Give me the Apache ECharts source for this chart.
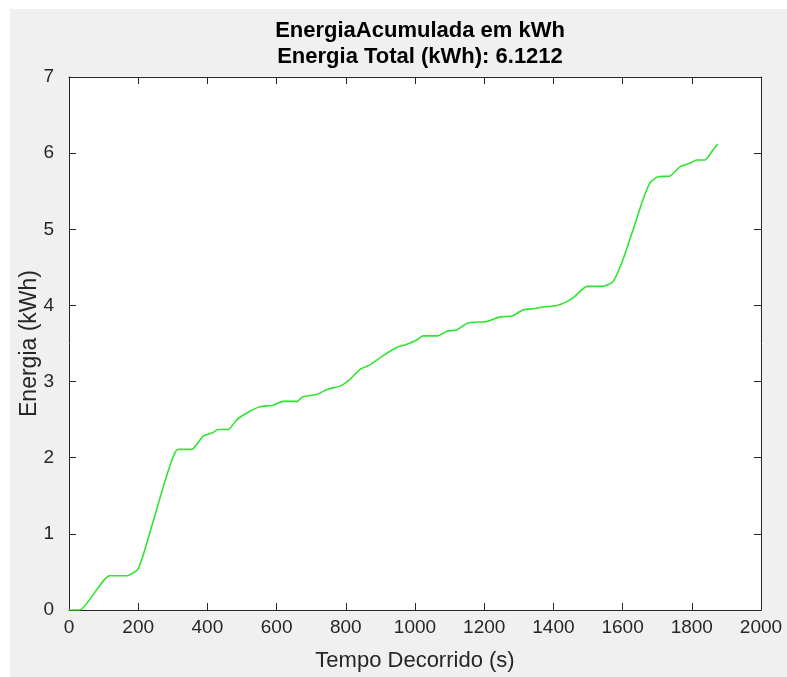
<!DOCTYPE html>
<html>
<head>
<meta charset="utf-8">
<script src="https://cdn.jsdelivr.net/npm/echarts@6/dist/echarts.min.js"></script>
<style>
  html, body { margin: 0; padding: 0; background: #ffffff; }
  #chartEnergy { width: 787px; height: 677px; }
</style>
</head>
<body>
<div id="chartEnergy"></div>
<script>
// data
var timeSec = [0, 30, 118, 167, 200, 234, 268, 298, 315, 355, 387, 416, 430, 460, 485, 523, 552, 590, 618, 659, 676, 716, 748, 783, 812, 841, 870, 908, 948, 977, 1006, 1023, 1064, 1092, 1121, 1153, 1208, 1246, 1280, 1312, 1347, 1370, 1410, 1439, 1462, 1497, 1540, 1572, 1601, 1630, 1659, 1679, 1702, 1737, 1766, 1795, 1815, 1838, 1861, 1875];
var energyKWh = [0, 0, 0.45, 0.45, 0.54, 1.02, 1.55, 1.98, 2.11, 2.11, 2.28, 2.33, 2.37, 2.37, 2.5, 2.61, 2.67, 2.69, 2.74, 2.74, 2.8, 2.83, 2.9, 2.94, 3.03, 3.16, 3.22, 3.34, 3.45, 3.49, 3.55, 3.6, 3.6, 3.66, 3.68, 3.77, 3.79, 3.85, 3.86, 3.94, 3.96, 3.98, 4.0, 4.05, 4.12, 4.25, 4.25, 4.31, 4.6, 4.99, 5.39, 5.61, 5.69, 5.7, 5.82, 5.87, 5.91, 5.91, 6.04, 6.1212];
var xTicks = [0, 200, 400, 600, 800, 1000, 1200, 1400, 1600, 1800, 2000];
var yTicks = [0, 1, 2, 3, 4, 5, 6, 7];

var points = timeSec.map(function (t, i) { return [t, energyKWh[i]]; });

var dom = document.getElementById("chartEnergy");
var myChart = echarts.init(dom, null, { renderer: "canvas" });
var txt = "#262626";
var font = "Liberation Sans, Arial, sans-serif";

// ticks pointing into the plot box, like matlab
function tick() { return { show: true, inside: true, length: 7, lineStyle: { color: txt, width: 1 } }; }
function axLine() { return { show: true, onZero: false, lineStyle: { color: txt, width: 1 } }; }

var option = {
  backgroundColor: "#ffffff",
  animation: false,
  graphic: [{
    type: "rect",
    z: -10,
    shape: { x: 10, y: 9, width: 777, height: 668 },
    style: { fill: "#f0f0f0" }
  }, {
    type: "rect",
    z: -9,
    shape: { x: 69, y: 77, width: 692, height: 534 },
    style: { fill: "#ffffff" }
  }],
  title: {
    text: "EnergiaAcumulada em kWh\nEnergia Total (kWh): 6.1212",
    left: 415,
    top: 13,
    textAlign: "center",
    textStyle: { fontFamily: font, fontSize: 22, fontWeight: "bold", color: "#000000", lineHeight: 26 }
  },
  grid: { left: 69, right: 26, top: 77, bottom: 66, show: false },
  xAxis: [{
    type: "value",
    min: 0, max: 2000, interval: 200,
    name: "Tempo Decorrido (s)",
    nameLocation: "middle",
    nameGap: 40,
    nameMoveOverlap: false,
    nameTextStyle: { fontFamily: font, fontSize: 22, color: txt },
    axisLine: axLine(),
    axisTick: tick(),
    splitLine: { show: false },
    axisLabel: { fontFamily: font, fontSize: 19, color: txt, margin: 8,
      formatter: function (v) { return xTicks.indexOf(v) >= 0 ? String(v) : ""; } }
  }, {
    type: "value",
    position: "top",
    min: 0, max: 2000, interval: 200,
    axisLine: axLine(),
    axisTick: tick(),
    splitLine: { show: false },
    axisLabel: { show: false }
  }],
  yAxis: [{
    type: "value",
    min: 0, max: 7, interval: 1,
    name: "Energia (kWh)",
    nameLocation: "middle",
    nameGap: 28,
    nameMoveOverlap: false,
    nameRotate: 90,
    nameTextStyle: { fontFamily: font, fontSize: 23, color: txt },
    axisLine: axLine(),
    axisTick: tick(),
    splitLine: { show: false },
    axisLabel: { fontFamily: font, fontSize: 19, color: txt, margin: 15,
      formatter: function (v) { return yTicks.indexOf(v) >= 0 ? String(v) : ""; } }
  }, {
    type: "value",
    position: "right",
    min: 0, max: 7, interval: 1,
    axisLine: axLine(),
    axisTick: tick(),
    splitLine: { show: false },
    axisLabel: { show: false }
  }],
  series: [{
    type: "line",
    data: points,
    showSymbol: false,
    smooth: 0.2,
    lineStyle: { color: "#2ee62e", width: 1.6 },
    itemStyle: { color: "#2ee62e" }
  }]
};
myChart.setOption(option);
</script>
</body>
</html>
